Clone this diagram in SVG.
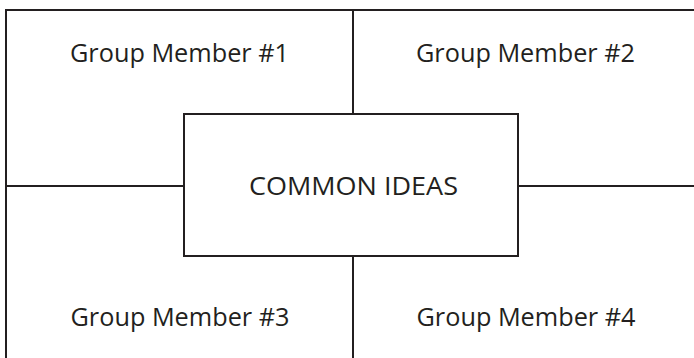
<svg xmlns="http://www.w3.org/2000/svg" width="694" height="358" viewBox="0 0 694 358">
  <style>
    .ln { stroke: #231f20; stroke-width: 2; fill: none; }
    .box { stroke: #231f20; stroke-width: 2; fill: #ffffff; }
    .lbl { font-family: "Open Sans", "Noto Sans", sans-serif; font-size: 25px; fill: #231f20; text-anchor: middle; }
  </style>
  <rect width="694" height="358" fill="#ffffff"/>
  <g id="connectors">
    <!-- outer frame: open on right and bottom edges -->
    <path class="ln" d="M6 359 V10 H695"/>
    <path class="ln" d="M353 10 V114"/>
    <path class="ln" d="M353 256 V359"/>
    <path class="ln" d="M6 186 H184"/>
    <path class="ln" d="M518 186 H695"/>
  </g>
  <g id="member1"><text class="lbl" x="179.5" y="62" textLength="219" lengthAdjust="spacingAndGlyphs">Group Member #1</text></g>
  <g id="member2"><text class="lbl" x="525.5" y="62" textLength="219" lengthAdjust="spacingAndGlyphs">Group Member #2</text></g>
  <g id="member3"><text class="lbl" x="180" y="326" textLength="219" lengthAdjust="spacingAndGlyphs">Group Member #3</text></g>
  <g id="member4"><text class="lbl" x="526" y="326" textLength="219" lengthAdjust="spacingAndGlyphs">Group Member #4</text></g>
  <g id="common">
    <rect class="box" x="184" y="114" width="334" height="142"/>
    <text class="lbl" x="353.5" y="195" textLength="209" lengthAdjust="spacingAndGlyphs">COMMON IDEAS</text>
  </g>
</svg>
